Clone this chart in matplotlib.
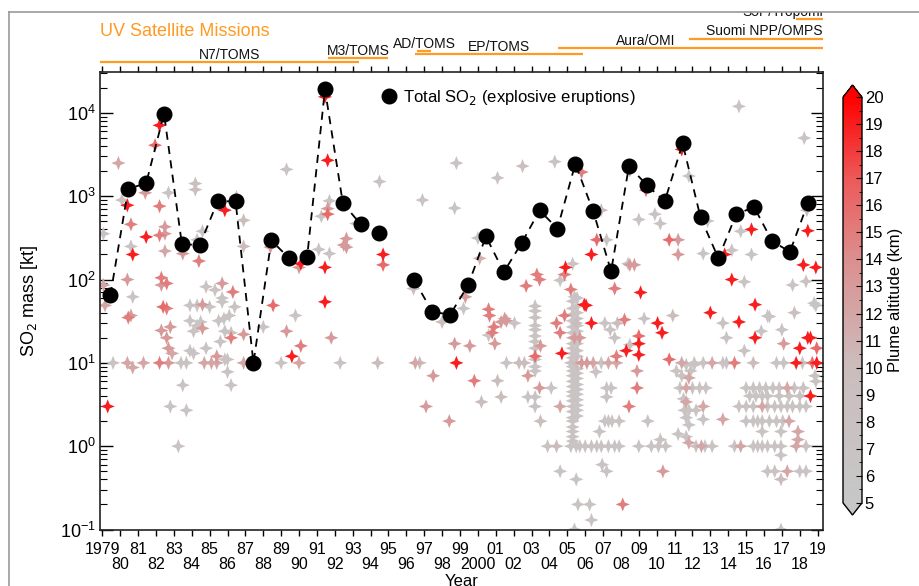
import numpy as np
import matplotlib
matplotlib.use("Agg")
import matplotlib.pyplot as plt
from matplotlib.colors import LinearSegmentedColormap, Normalize
from matplotlib.transforms import blended_transform_factory
from matplotlib.lines import Line2D
from matplotlib.patches import Rectangle

plt.rcParams['font.family'] = ['Liberation Sans', 'DejaVu Sans']

# ---------------- data ----------------
tot_years = list(range(1979, 2019))
tot_so2 = [65, 1230, 1430, 9800, 265, 260, 870, 870, 10, 295,
           180, 185, 19200, 825, 460, 360, np.nan, 98, 41, 38,
           85, 330, 123, 275, 675, 410, 2450, 660, 126, 2300,
           1360, 870, 4300, 560, 180, 610, 740, 290, 215, 825]

# individual eruptions: (decimal year, SO2 mass kt, plume altitude km)
erupt = [
    (1979.9, 2500, 12), (1979.06, 355, 7), (1979.06, 86, 12), (1979.15, 49, 12),
    (1980.1, 900, 8), (1980.4, 780, 19), (1980.6, 460, 15), (1980.6, 250, 7),
    (1980.7, 200, 19), (1980.4, 100, 13), (1980.7, 62, 7), (1980.6, 37, 13),
    (1980.45, 35, 15), (1981.4, 1100, 13), (1981.45, 325, 19), (1981.95, 4100, 16),
    (1982.2, 7100, 19), (1982.2, 760, 15), (1982.2, 340, 15), (1982.5, 355, 13),
    (1982.5, 430, 13), (1982.5, 220, 12), (1982.3, 105, 15), (1982.6, 90, 15),
    (1982.3, 86, 13), (1982.4, 47, 16), (1982.6, 45, 15), (1982.7, 1100, 7),
    (1983.5, 205, 13), (1984.2, 1420, 9), (1984.2, 1200, 9), (1984.4, 167, 15),
    (1984.6, 380, 7), (1984.3, 300, 7), (1985.85, 680, 19), (1986.5, 980, 7),
    (1986.9, 515, 10), (1986.9, 250, 10), (1985.7, 90, 13), (1986.3, 71, 15),
    (1988.4, 245, 13), (1988.55, 49, 16), (1989.3, 2100, 7), (1989.8, 37, 7),
    (1990.0, 140, 13), (1990.1, 155, 19), (1991.1, 230, 7), (1991.45, 15600, 19),
    (1991.6, 2700, 19), (1991.7, 880, 7), (1991.25, 575, 7), (1991.6, 710, 13),
    (1991.6, 610, 16), (1991.7, 205, 7), (1991.45, 140, 19), (1991.45, 54, 19),
    (1992.5, 260, 13), (1992.65, 310, 13), (1992.65, 245, 13), (1993.2, 470, 10),
    (1994.5, 1500, 7), (1994.7, 200, 19), (1994.7, 150, 16), (1996.4, 78, 10),
    (1996.9, 900, 7), (1998.8, 2500, 7), (1998.7, 720, 7),
    (1983.9, 49, 7), (1984.6, 50, 13), (1985.0, 47, 7), (1985.7, 54, 7),
    (1986.4, 47, 7), (1984.8, 82, 7), (1985.3, 75, 7), (1985.7, 60, 7), (1984.3, 49, 7),
    (1982.3, 24.5, 13), (1982.8, 27, 13), (1982.6, 20, 13), (1982.7, 15, 13), (1982.9, 13, 12),
    (1983.9, 32, 7), (1984.1, 24, 7), (1984.3, 28, 7), (1984.5, 31, 7), (1984.6, 26, 13),
    (1985.5, 32, 7), (1985.8, 34, 7), (1986.1, 37, 7), (1985.85, 24, 7), (1986.2, 23, 7),
    (1986.2, 20, 15), (1986.9, 22, 13), (1988.0, 27, 7), (1989.3, 24, 13),
    (1983.9, 14, 7), (1984.1, 13, 7), (1984.8, 15, 7), (1985.6, 18, 7), (1985.85, 11, 7),
    (1985.4, 12, 13), (1990.1, 16, 15), (1989.6, 12, 19), (1991.8, 20, 13),
    (1979.6, 10, 7), (1980.4, 10, 12), (1980.7, 8.8, 12), (1981.3, 10, 12), (1982.2, 10, 15),
    (1982.7, 10, 13), (1983.4, 10, 7), (1983.7, 10, 7), (1984.7, 10, 12), (1985.1, 10, 12),
    (1985.4, 10, 12), (1986.0, 11, 7), (1986.9, 10, 12), (1989.0, 10, 7), (1990.0, 10, 12),
    (1992.3, 10, 7), (1994.4, 10, 10), (1996.5, 10, 12), (1996.75, 10, 10), (1998.8, 10, 19),
    (1983.5, 5.4, 7), (1982.8, 3.0, 7), (1983.7, 2.7, 7), (1983.25, 1.0, 7), (1986.2, 5.4, 7),
    (1986.0, 7.8, 7), (1979.3, 3.0, 19), (1997.5, 7, 13), (1997.1, 3.0, 13), (1998.4, 2.0, 13),
    (1998.7, 17, 13), (1998.0, 31, 10),
    (2014.6, 12000, 7), (2018.25, 5000, 7), (2001.1, 1660, 7), (2002.5, 2300, 9),
    (2004.3, 2600, 7), (2005.8, 1950, 15), (2008.5, 2050, 13), (2009.4, 1180, 16),
    (2011.4, 3650, 19), (2011.8, 1750, 7), (2012.85, 505, 7), (2006.9, 680, 10),
    (2009.0, 525, 7), (2009.9, 610, 7), (2010.2, 470, 7), (2018.4, 680, 10),
    (2000.0, 315, 7), (2000.1, 180, 11), (1999.3, 62, 13), (1999.2, 45, 7),
    (2000.6, 44, 15), (2001.5, 34, 13), (2003.3, 115, 15), (2003.45, 100, 15),
    (2002.7, 84, 15), (2004.6, 98, 7), (2004.85, 115, 15), (2004.9, 140, 19),
    (2005.3, 155, 7), (2005.2, 76, 15), (2005.4, 62, 7), (2006.05, 49, 19),
    (2006.35, 200, 19), (2006.65, 300, 16), (2007.2, 300, 7), (2007.65, 78, 15),
    (2008.4, 155, 7), (2008.5, 150, 13), (2008.75, 150, 13), (2009.1, 70, 19),
    (2010.7, 300, 16), (2011.2, 300, 13), (2011.2, 200, 13), (2012.6, 205, 7),
    (2013.8, 200, 19), (2014.2, 225, 7), (2014.7, 380, 7), (2015.3, 400, 19),
    (2015.3, 200, 7), (2014.2, 100, 19), (2014.9, 94, 7), (2015.5, 50, 19),
    (2017.6, 86, 7), (2018.35, 95, 7), (2018.2, 150, 19), (2018.9, 140, 19),
    (2018.45, 385, 19), (2018.8, 52, 7), (2013.0, 40, 19), (2016.3, 36, 7),
    (2017.7, 40, 9), (2009.3, 34, 7), (2005.95, 50, 19),
    (2000.65, 37, 15), (2000.9, 27, 15), (2000.8, 23, 15), (2000.6, 21.5, 7),
    (2000.95, 17, 13), (2001.3, 31, 13), (2001.6, 32, 13), (2002.05, 30, 7),
    (1999.55, 16, 13), (1999.8, 6.1, 15), (2000.2, 3.4, 10), (2001.1, 6.1, 10),
    (2001.3, 3.9, 10), (2001.6, 10, 7), (2002.3, 10, 10), (2002.6, 10, 10),
    (2002.8, 7, 13), (2002.8, 3.9, 7), (2003.2, 12, 16),
    (2003.2, 48, 7), (2003.2, 42, 7), (2003.2, 35, 7), (2003.2, 28, 7), (2003.2, 25, 7),
    (2003.2, 21, 7), (2003.2, 18, 7), (2003.2, 15, 7), (2003.2, 11, 7), (2003.2, 9, 7),
    (2003.2, 8, 7),
    (2003.5, 16, 13), (2003.45, 5, 13), (2003.2, 3.9, 7), (2003.2, 3.0, 7), (2003.5, 2, 10),
    (2004.1, 5, 7), (2004.4, 30, 15), (2004.6, 23, 15), (2004.6, 3, 12), (2003.9, 1, 7),
    (2004.4, 1, 10), (2004.6, 0.5, 7), (2004.85, 37, 15), (2004.7, 13, 19),
    (2005.3, 55, 7), (2005.3, 45, 7), (2005.3, 38, 7), (2005.3, 32, 7), (2005.3, 27, 7),
    (2005.3, 23, 7), (2005.3, 20, 7), (2005.3, 17, 7), (2005.3, 15, 7), (2005.3, 13, 7),
    (2005.3, 11.5, 7), (2005.3, 9, 7), (2005.3, 8, 7), (2005.3, 7, 7), (2005.3, 6, 7),
    (2005.3, 5.2, 7), (2005.3, 4.5, 7), (2005.3, 4, 7), (2005.3, 3.5, 7), (2005.3, 3, 7),
    (2005.3, 2.6, 7), (2005.3, 2.2, 7), (2005.3, 2, 7), (2005.3, 1.7, 7), (2005.3, 1.5, 7),
    (2005.3, 1.3, 7), (2005.3, 1.15, 7),
    (2005.55, 60, 7), (2005.55, 48, 7), (2005.55, 40, 7), (2005.55, 34, 7), (2005.55, 28, 7),
    (2005.55, 24, 7), (2005.55, 17, 7), (2005.55, 14, 7), (2005.55, 12, 7), (2005.55, 8.5, 7),
    (2005.55, 7.5, 7), (2005.55, 6.5, 7), (2005.55, 5.5, 7), (2005.55, 4.8, 7), (2005.55, 4.2, 7),
    (2005.55, 3.6, 7), (2005.55, 3.1, 7), (2005.55, 2.7, 7), (2005.55, 2.3, 7),
    (2005.5, 30, 10), (2005.4, 20, 13), (2005.7, 20, 13),
    (2005.2, 10, 7), (2005.5, 10, 10), (2005.8, 10, 13), (2006.1, 10, 13), (2006.45, 10, 12),
    (2006.9, 10, 7), (2007.3, 10, 12), (2007.75, 10, 12),
    (2006.35, 30, 19), (2007.1, 30, 7), (2007.4, 25, 7), (2007.8, 30, 10), (2008.2, 33, 15),
    (2007.65, 20, 7), (2007.75, 12, 15), (2008.3, 14, 19), (2008.5, 16.5, 7), (2009.0, 21, 16),
    (2009.0, 17, 19), (2009.0, 12.5, 19),
    (2006.6, 7.8, 7), (2007.2, 5, 7), (2007.45, 5, 7), (2007.2, 3.9, 7), (2007.1, 2, 7),
    (2007.3, 2, 7), (2007.5, 2, 7), (2007.9, 2, 7), (2006.8, 1.5, 7),
    (2005.2, 1, 7), (2005.5, 1, 7), (2005.7, 1, 7), (2006.0, 1, 7), (2006.35, 1, 7),
    (2006.65, 1, 7), (2006.9, 1, 7), (2007.3, 1, 7), (2007.65, 1, 7), (2007.9, 1, 7),
    (2005.5, 0.4, 7), (2006.95, 0.6, 7), (2007.2, 0.5, 7), (2005.6, 0.2, 7), (2006.25, 0.2, 7),
    (2006.35, 0.13, 7), (2005.4, 0.1, 7),
    (2008.1, 0.2, 15), (2008.9, 5, 15), (2008.45, 3, 15), (2008.9, 8, 13), (2009.5, 2, 7),
    (2010.05, 30, 19), (2010.3, 23, 19), (2010.9, 37, 10), (2010.7, 11, 16),
    (2009.0, 1, 7), (2009.7, 1, 7), (2010.1, 1, 7), (2010.5, 1, 7), (2010.2, 1.2, 7),
    (2010.35, 0.5, 13),
    (2011.1, 8, 7), (2011.4, 7, 7), (2011.65, 9.5, 7), (2011.9, 8, 7), (2012.1, 9.5, 7),
    (2011.8, 6.6, 12), (2011.3, 5, 7), (2011.65, 5, 12), (2012.0, 5, 7), (2012.4, 5, 7),
    (2012.75, 5, 7), (2011.5, 3.7, 7), (2011.65, 3.4, 12), (2011.55, 2.7, 7), (2011.8, 2.7, 7),
    (2012.2, 2.7, 7), (2012.6, 3, 12), (2011.65, 2.2, 7), (2011.8, 1.8, 7), (2012.6, 2.1, 7),
    (2011.2, 1.4, 7), (2011.65, 1.3, 7), (2011.8, 1.1, 12),
    (2012.2, 1, 7), (2012.5, 1, 12), (2012.7, 1, 7), (2013.1, 1, 7), (2013.7, 2.1, 12),
    (2011.4, 10, 12), (2012.1, 10, 7), (2012.6, 10, 7), (2013.1, 10, 12), (2013.7, 10, 7),
    (2013.9, 10, 7), (2014.35, 10, 15),
    (2013.7, 30, 7), (2013.9, 20, 7), (2014.6, 31, 19), (2015.5, 20, 19), (2015.85, 24, 7),
    (2016.2, 36.5, 7), (2014.9, 14, 7), (2015.4, 10, 10), (2017.0, 25, 7), (2018.9, 49, 7),
    (2017.1, 17, 13), (2018.45, 20, 19), (2018.6, 20, 19), (2018.0, 15, 19), (2018.95, 15, 16),
    (2016.7, 10, 7), (2017.1, 10, 7), (2017.8, 10, 19), (2018.15, 10, 7), (2018.7, 10, 16),
    (2018.95, 10, 19), (2018.6, 4, 19), (2018.9, 6, 7), (2018.85, 7, 7),
    (2015.0, 5, 7), (2015.4, 5, 7), (2015.75, 5, 7), (2016.1, 5, 7), (2016.5, 5, 7),
    (2016.85, 5, 7), (2017.3, 5, 12), (2017.7, 5, 7), (2018.2, 5, 7),
    (2015.2, 4, 7), (2015.55, 4, 7), (2015.9, 4, 7), (2016.2, 4, 7), (2016.85, 4, 7),
    (2017.4, 4, 7), (2018.0, 4, 7),
    (2014.6, 3, 7), (2015.0, 3, 7), (2015.4, 3, 7), (2015.9, 3, 12), (2016.2, 3, 7),
    (2016.6, 3, 7), (2016.95, 3, 7), (2017.3, 3, 7), (2017.6, 3, 7), (2018.0, 3, 7),
    (2018.35, 3, 7),
    (2015.0, 2, 7), (2015.4, 2, 7), (2015.65, 2, 7), (2015.9, 2, 7), (2016.3, 2, 7),
    (2016.7, 2, 7), (2017.05, 2, 7), (2017.4, 2, 12),
    (2015.9, 1.5, 7), (2016.95, 1.5, 7), (2017.9, 1.5, 12), (2017.9, 1.2, 12),
    (2014.35, 1, 7), (2014.7, 1, 12), (2015.4, 1, 7), (2015.65, 1, 7), (2015.9, 1, 7),
    (2016.2, 1, 7), (2016.6, 1, 7), (2016.95, 1, 7), (2017.8, 1, 12), (2018.35, 1, 7),
    (2016.95, 0.78, 7), (2016.2, 0.5, 7), (2016.6, 0.5, 7), (2017.3, 0.5, 12),
    (2018.0, 0.5, 7), (2018.35, 0.5, 7), (2016.95, 0.4, 10), (2016.95, 0.1, 7),
]
erupt_year = [e[0] for e in erupt]
erupt_so2 = [e[1] for e in erupt]
erupt_alt = [e[2] for e in erupt]

# satellite missions
mission_names = ['N7/TOMS', 'M3/TOMS', 'AD/TOMS', 'EP/TOMS', 'Aura/OMI',
                 'Suomi NPP/OMPS', 'S5P/Tropomi']
mission_start = [1978.87, 1991.6, 1996.6, 1996.5, 2004.5, 2011.8, 2017.8]
mission_end = [1993.35, 1995.0, 1997.4, 2005.9, 2019.3, 2019.3, 2019.3]

# ---------------- layout ----------------
W, H = 919, 586
fig = plt.figure(figsize=(W / 100, H / 100), dpi=100)
ax = fig.add_axes([100 / W, 1 - 529.5 / H, 723 / W, 457.5 / H])
cax = fig.add_axes([843 / W, 1 - 515 / H, 19 / W, 430 / H])

cmap = LinearSegmentedColormap.from_list('alt', [
    (0.0, (0.78, 0.78, 0.78)),
    (5 / 15, (0.80, 0.74, 0.74)),
    (9 / 15, (0.86, 0.56, 0.56)),
    (12 / 15, (0.93, 0.35, 0.35)),
    (1.0, (1.0, 0.0, 0.0))])
cmap.set_over((1.0, 0.0, 0.0))
cmap.set_under((0.78, 0.78, 0.78))
norm = Normalize(vmin=5, vmax=20)

# 4-point star marker
r_in = 0.4
star = []
for k in range(8):
    ang = np.pi / 2 + k * np.pi / 4
    rr = 1.0 if k % 2 == 0 else r_in
    star.append((rr * np.cos(ang), rr * np.sin(ang)))
star.append(star[0])

order = np.argsort(erupt_alt, kind='stable')
sx = np.array(erupt_year)[order]
sy = np.array(erupt_so2)[order]
sc_alt = np.array(erupt_alt)[order]
sc = ax.scatter(sx, sy, c=sc_alt, cmap=cmap, norm=norm, marker=star,
                s=105, linewidths=0, zorder=2)

tx = np.array(tot_years) + 0.45
ax.plot(tx, tot_so2, ls=(0, (4.5, 3.5)), color='black', lw=1.3, zorder=3)
dots, = ax.plot(tx, tot_so2, 'o', color='black', ms=10.5, ls='none', zorder=4,
                label='Total SO$_2$ (explosive eruptions)')

ax.set_yscale('log')
ax.set_ylim(0.1, 3.1e4)
ax.set_xlim(1978.87, 2019.3)

years = list(range(1979, 2020))
labels = []
for y in years:
    s = str(y) if y in (1979, 2000) else f'{y % 100:02d}'
    labels.append(s + '\n' if y % 2 == 1 else '\n' + s)
ax.set_xticks(years)
ax.set_xticklabels(labels, fontsize=11.5, linespacing=1.0)
ax.tick_params(axis='x', which='major', direction='out', length=4, width=1,
               top=True, labeltop=False, pad=5)
ax.tick_params(axis='y', which='major', direction='in', length=9, width=1,
               right=True, labelsize=13, pad=3)
ax.tick_params(axis='y', which='minor', direction='in', length=5, width=0.8,
               right=True)
for sp in ax.spines.values():
    sp.set_linewidth(1.2)
    sp.set_color('#222222')

ax.set_ylabel('SO$_2$ mass [kt]', fontsize=13)
ax.yaxis.set_label_coords(-0.083, 0.5)
ax.set_xlabel('Year', fontsize=12)
ax.xaxis.set_label_coords(0.5, -0.098)

ax.legend(handles=[dots], loc='upper left', bbox_to_anchor=(0.37, 0.99),
          frameon=False, fontsize=12, numpoints=1, handletextpad=0.2,
          borderaxespad=0.3, handlelength=1.2)

# colorbar
cb = fig.colorbar(sc, cax=cax, extend='both', extendfrac=0.03)
cb.set_ticks(range(5, 21))
cb.ax.yaxis.set_minor_locator(matplotlib.ticker.MultipleLocator(0.5))
cb.ax.tick_params(which='major', direction='in', length=4, labelsize=12, pad=2)
cb.ax.tick_params(which='minor', direction='in', length=2)
cb.outline.set_linewidth(1)
cb.set_label('Plume altitude (km)', fontsize=12, labelpad=3)

# satellite missions above plot
orange = '#FF9A22'
trans = blended_transform_factory(ax.transData, fig.transFigure)
line_px = [62, 58, 50.5, 54, 47.5, 39, 19.3]
label_px = [55, 51, 44, 47, 41, 31, 12]
label_x = [1986.1, 1993.3, 1997.0, 2001.2, 2009.4, 2019.3, 2019.3]
label_ha = ['center', 'center', 'center', 'center', 'center', 'right', 'right']
for name, a, b, lp, tp, lx, ha in zip(mission_names, mission_start, mission_end,
                                       line_px, label_px, label_x, label_ha):
    ax.plot([a, b], [1 - lp / H] * 2, color=orange, lw=1.6, transform=trans,
            clip_on=False, solid_capstyle='butt')
    ax.text(lx, 1 - tp / H, name, transform=trans, ha=ha, va='center',
            fontsize=10, color='#111111', clip_on=False)

fig.text(100 / W, 1 - 32 / H, 'UV Satellite Missions', color=orange,
         fontsize=13, ha='left', va='center')

# frame border (cropped figure)
fig.add_artist(Rectangle((0, 1 - 12 / H), 1, 12 / H, transform=fig.transFigure,
                         facecolor='white', edgecolor='none', zorder=20))
fig.add_artist(Line2D([9 / W, 1], [1 - 12 / H, 1 - 12 / H], transform=fig.transFigure,
                      color='#999999', lw=1.2, zorder=21))
fig.add_artist(Line2D([9 / W, 9 / W], [0, 1 - 12 / H], transform=fig.transFigure,
                      color='#999999', lw=1.2, zorder=21))

fig.savefig('out.png', dpi=100)
